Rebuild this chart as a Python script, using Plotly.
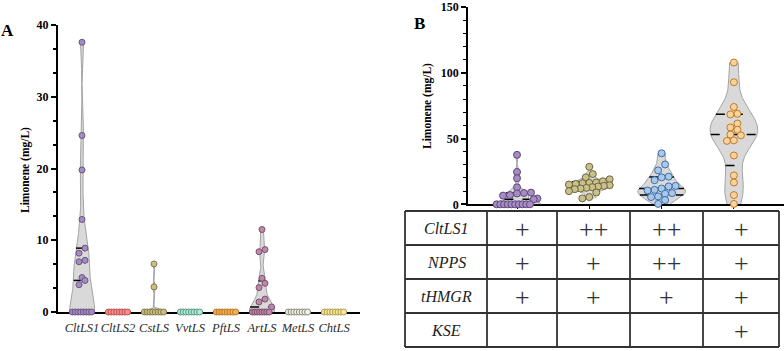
import numpy as np
import plotly.graph_objects as go

W, H = 784, 351

# ---------------- data: panel A ----------------
a_names = ["CltLS1", "CltLS2", "CstLS", "VvtLS", "PftLS", "ArtLS", "MetLS", "ChtLS"]
a_CltLS1 = [37.6, 24.6, 19.8, 12.9, 8.9, 8.2, 7.2, 7.0, 4.8, 4.4, 3.8, 0, 0, 0, 0, 0, 0, 0, 0]
a_CltLS2 = [0, 0, 0, 0, 0, 0, 0, 0]
a_CstLS = [6.7, 3.5, 0, 0, 0, 0, 0, 0, 0, 0]
a_VvtLS = [0, 0, 0, 0, 0, 0, 0, 0]
a_PftLS = [0, 0, 0, 0, 0, 0, 0, 0]
a_ArtLS = [11.5, 8.7, 8.4, 4.7, 4.0, 3.4, 1.8, 1.4, 0.7, 0, 0, 0, 0, 0, 0, 0, 0]
a_MetLS = [0, 0, 0, 0, 0, 0, 0, 0]
a_ChtLS = [0, 0, 0, 0, 0, 0, 0, 0]
a_values = [a_CltLS1, a_CltLS2, a_CstLS, a_VvtLS, a_PftLS, a_ArtLS, a_MetLS, a_ChtLS]
a_yticks = [0, 10, 20, 30, 40]

# ---------------- data: panel B ----------------
b_g1 = [37.6, 24.6, 19.8, 12.9, 8.9, 8.6, 8.2, 7.0, 6.6, 4.4, 3.8, 0, 0, 0, 0, 0, 0, 0, 0, 0, 0]
b_g2 = [28.5, 23.0, 20.5, 19.0, 17.5, 16.6, 16.3, 16.0, 15.5, 15.0, 14.5, 14.0, 13.5, 13.0,
        12.5, 12.0, 11.5, 10.0, 9.0, 5.5, 4.5]
b_g3 = [38.8, 30.3, 25.8, 21.0, 20.5, 18.3, 14.0, 13.6, 12.0, 11.0, 10.5, 8.5, 8.0, 6.0, 5.5, 3.2, 0.3]
b_g4 = [107.8, 92.8, 74.0, 68.8, 68.3, 61.4, 58.4, 56.7, 53.0, 52.4, 48.6, 48.2, 37.1, 22.0, 16.6, 7.0, 0.3]
b_values = [b_g1, b_g2, b_g3, b_g4]
b_yticks = [0, 50, 100, 150]

# table
tbl_rows = ["CltLS1", "NPPS", "tHMGR", "KSE"]
tbl_cells = [["+", "++", "++", "+"],
             ["+", "+", "++", "+"],
             ["+", "+", "+", "+"],
             ["", "", "", "+"]]

# ---------------- styles ----------------
a_fill = ["#a58cbf", "#f2918f", "#c9bd88", "#b9e6d6", "#f5ae55", "#b98aaa", "#f2f1e6", "#f5e6a3"]
a_edge = ["#6a5485", "#c0504f", "#857a45", "#4f9c82", "#bd7a22", "#7f4f6e", "#8a8a78", "#b0a048"]
b_fill = ["#a68bc4", "#c9c08a", "#a9c9ea", "#f9d29c"]
b_edge = ["#5d4a78", "#6c6640", "#3f6fa8", "#c07a2a"]
SERIF = "Liberation Serif"
BW_FACTOR = 0.6

# pixel geometry
A_X0, A_X1, A_Y0, A_Y1 = 58, 360, 312, 25
B_X0, B_X1, B_Y0, B_Y1 = 468, 784, 204.3, 7
A_SP = 36.0     # px between categories
B_SP = 72.3
A_PPU = (A_Y0 - A_Y1) / 40.0
B_PPU = (B_Y0 - B_Y1) / 150.0


def kde_half(vals, grid):
    v = np.asarray(vals, float)
    n = len(v)
    q1, q3 = np.percentile(v, [25, 75], method="weibull")
    sd = v.std(ddof=1)
    a = min(sd, (q3 - q1) / 1.349) if q3 > q1 else sd
    bw = BW_FACTOR * max(1.059 * a * n ** -0.2, (v.max() - v.min()) / 100)
    return np.exp(-0.5 * ((grid[:, None] - v[None, :]) / bw) ** 2).sum(1)


def swarm(vals, ppu, d, hw_px):
    v = np.asarray(vals, float)
    order = np.argsort(v, kind="stable")
    offs = np.zeros(len(v))
    rows, cur = [], [order[0]]
    for i in order[1:]:
        if (v[i] - v[cur[0]]) * ppu < d * 0.9:
            cur.append(i)
        else:
            rows.append(cur)
            cur = [i]
    rows.append(cur)
    for r in rows:
        k = len(r)
        if k == 1:
            continue
        s = min(d, (2 * hw_px - d) / (k - 1))
        for j, i in enumerate(r):
            offs[i] = (j - (k - 1) / 2) * s
    return offs


fig = go.Figure()


def add_panel(values, fills, edges, xa, ya, sp, ppu, hw, msize):
    for i, vals in enumerate(values):
        v = np.asarray(vals, float)
        if v.max() - v.min() <= 0:
            continue
        grid = np.linspace(v.min(), v.max(), 300)
        dens = kde_half(v, grid)
        half = dens / dens.max() * hw
        xs = np.concatenate([i + half, (i - half)[::-1]])
        ys = np.concatenate([grid, grid[::-1]])
        fig.add_trace(go.Scatter(x=xs, y=ys, xaxis=xa, yaxis=ya, mode="lines", fill="toself",
                                 fillcolor="#d9d9d9", line=dict(color="#a3a3a3", width=1),
                                 hoverinfo="skip", cliponaxis=False))
        qs = np.percentile(v, [25, 50, 75], method="weibull")
        lx, ly = [], []
        for q in qs:
            if q <= v.min() or q >= v.max():
                continue
            hq = kde_half(v, np.array([q]))[0] / dens.max() * hw
            lx += [i - hq, i + hq, None]
            ly += [q, q, None]
        if lx:
            fig.add_trace(go.Scatter(x=lx, y=ly, xaxis=xa, yaxis=ya, mode="lines",
                                     line=dict(color="black", width=1.5, dash="dash"),
                                     hoverinfo="skip", cliponaxis=False))
    for i, vals in enumerate(values):
        offs = swarm(vals, ppu, msize, hw * sp)
        fig.add_trace(go.Scatter(x=i + offs / sp, y=vals, xaxis=xa, yaxis=ya, mode="markers",
                                 marker=dict(size=msize, color=fills[i],
                                             line=dict(color=edges[i], width=1)),
                                 cliponaxis=False))


add_panel(a_values, a_fill, a_edge, "x", "y", A_SP, A_PPU, 0.35, 6)
add_panel(b_values, b_fill, b_edge, "x2", "y2", B_SP, B_PPU, 0.33, 7)

ax_common = dict(showgrid=False, zeroline=False, layer="below traces", fixedrange=True,
                 automargin=False, ticklabeloverflow="allow")
tick_font = dict(family=SERIF, size=12, color="black", weight="bold")

fig.update_layout(
    width=W, height=H, margin=dict(l=0, r=0, t=0, b=0, autoexpand=False),
    paper_bgcolor="white", plot_bgcolor="rgba(0,0,0,0)", showlegend=False,
    xaxis=dict(domain=[A_X0 / W, A_X1 / W], range=[(A_X0 - 82) / A_SP, (A_X1 - 82) / A_SP],
               tickmode="array", tickvals=list(range(len(a_names))), ticktext=a_names,
               tickfont=dict(family=SERIF, size=12.5, color="#2b2b2b", style="italic"),
               tickangle=0, ticks="", showline=True, linecolor="black", linewidth=2, anchor="y",
               ticklabelstandoff=3, **ax_common),
    yaxis=dict(domain=[1 - A_Y0 / H, 1 - A_Y1 / H], range=[0, 40], tickmode="array",
               tickvals=a_yticks, ticks="outside", ticklen=5, tickwidth=2, tickcolor="black",
               showline=True, linecolor="black", linewidth=2, tickfont=tick_font,
               minor=dict(dtick=10 / 3, tick0=0, ticks="outside", ticklen=3, tickwidth=1.5,
                          tickcolor="black"),
               anchor="x", **ax_common),
    xaxis2=dict(domain=[B_X0 / W, 1.0], range=[(B_X0 - 517) / B_SP, (B_X1 - 517) / B_SP],
                tickmode="array", tickvals=list(range(len(b_values))), showticklabels=False,
                ticks="outside", ticklen=3, tickwidth=1, tickcolor="black",
                showline=True, linecolor="black", linewidth=1.5, anchor="y2", **ax_common),
    yaxis2=dict(domain=[1 - B_Y0 / H, 1 - B_Y1 / H], range=[0, 150], tickmode="array",
                tickvals=b_yticks, ticks="outside", ticklen=5, tickwidth=1.5, tickcolor="black",
                showline=True, linecolor="black", linewidth=1.5, tickfont=tick_font,
                minor=dict(dtick=10, tick0=0, ticks="outside", ticklen=3, tickwidth=1,
                           tickcolor="black"),
                anchor="x2", **ax_common),
)


def px(x, y):
    return x / W, 1 - y / H


def note(x, y, text, font, **kw):
    xp, yp = px(x, y)
    return dict(x=xp, y=yp, xref="paper", yref="paper", text=text, showarrow=False,
                xanchor="center", yanchor="middle", font=font, **kw)


annots = []
annots.append(note(8, 31, "A", dict(family=SERIF, size=17, color="black", weight="bold")))
annots.append(note(419, 24, "B", dict(family=SERIF, size=17, color="black", weight="bold")))
for (x, y) in [(25, 170), (427, 106)]:
    annots.append(note(x, y, "Limonene (mg/L)",
                       dict(family=SERIF, size=11.5, color="black", weight="bold"), textangle=-90))

# table
col_x = [405, 487, 557, 630, 703, 779]
row_y = [211, 245, 279, 313, 347]
shapes = []
for y in row_y:
    x0, y0 = px(col_x[0], y)
    x1, _ = px(col_x[-1], y)
    shapes.append(dict(type="line", xref="paper", yref="paper", x0=x0, x1=x1, y0=y0, y1=y0,
                       layer="below", line=dict(color="#333333", width=1.8)))
for x in col_x:
    x0, y0 = px(x, row_y[0])
    _, y1 = px(x, row_y[-1])
    shapes.append(dict(type="line", xref="paper", yref="paper", x0=x0, x1=x0, y0=y0, y1=y1,
                       layer="below", line=dict(color="#333333", width=1.8)))
for r, name in enumerate(tbl_rows):
    yc = (row_y[r] + row_y[r + 1]) / 2
    annots.append(note((col_x[0] + col_x[1]) / 2, yc, name,
                       dict(family=SERIF, size=16, color="#222222", style="italic")))
    for c, cell in enumerate(tbl_cells[r]):
        if not cell:
            continue
        annots.append(note((col_x[c + 1] + col_x[c + 2]) / 2, yc + 1, cell,
                           dict(family=SERIF, size=26, color="#333333")))

fig.update_layout(annotations=annots, shapes=shapes)
fig.write_html("out.html", config={"displayModeBar": False},
               post_script="document.body.style.margin='0';document.body.style.overflow='hidden';")
